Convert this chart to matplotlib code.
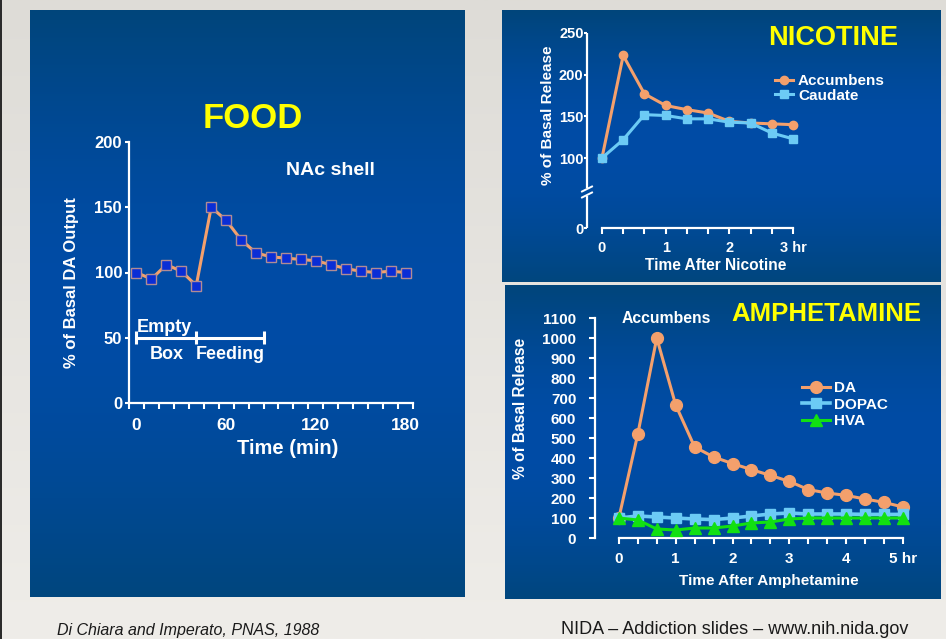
import numpy as np
import matplotlib
matplotlib.use("Agg")
import matplotlib.pyplot as plt
from matplotlib import font_manager
from matplotlib.colors import to_rgb
from matplotlib.ticker import FixedLocator, NullLocator

# ---------------- data ----------------
# FOOD: NAc shell, % of basal DA output, samples every 10 min
food_time_min = [0, 10, 20, 30, 40, 50, 60, 70, 80, 90, 100, 110, 120, 130, 140, 150, 160, 170, 180]
food_da = [100, 95, 106, 101, 90, 150, 140, 125, 115, 112, 111, 110, 109, 106, 103, 101, 100, 101, 100]
food_phase_edges = [0, 40, 85]          # empty box, then feeding
food_phase_level = 50
food_xticks = [0, 60, 120, 180]
food_yticks = [0, 50, 100, 150, 200]

# NICOTINE: % of basal release, samples every 20 min
nic_time_min = [0, 20, 40, 60, 80, 100, 120, 140, 160, 180]
nic_accumbens = [100, 223, 177, 163, 158, 154, 144, 142, 141, 140]
nic_caudate = [100, 122, 152, 151, 147, 147, 143, 142, 130, 123]
nic_xticklabels = ["0", "", "", "1", "", "", "2", "", "", "3 hr"]
nic_yticks = [0, 100, 150, 200, 250]

# AMPHETAMINE: accumbens, % of basal release, samples every 20 min
amp_time_min = [0, 20, 40, 60, 80, 100, 120, 140, 160, 180, 200, 220, 240, 260, 280, 300]
amp_da = [100, 520, 1000, 665, 455, 405, 372, 342, 313, 283, 242, 225, 213, 195, 178, 155]
amp_dopac = [100, 110, 105, 100, 95, 92, 100, 110, 120, 125, 120, 120, 120, 118, 118, 118]
amp_hva = [100, 90, 45, 40, 50, 50, 60, 75, 80, 95, 100, 100, 100, 100, 100, 100]
amp_xticklabels = ["0", "", "", "1", "", "", "2", "", "", "3", "", "", "4", "", "", "5 hr"]
amp_yticks = [0, 100, 200, 300, 400, 500, 600, 700, 800, 900, 1000, 1100]

# ---------------- style ----------------
W, H = 946, 639
plt.rcParams["font.family"] = ["Liberation Sans", "DejaVu Sans"]
plt.rcParams["font.weight"] = "bold"

names = {f.name for f in font_manager.fontManager.ttflist}
narrow = "Liberation Sans Narrow" if "Liberation Sans Narrow" in names else None

ORANGE = "#F4A06C"
LIGHTBLUE = "#6CCBF5"
GREEN = "#12E012"
YELLOW = "#FFFF00"
WHITE = "white"

fig = plt.figure(figsize=(W / 100, H / 100), dpi=100)


def fx(x):
    return x / W


def fy(y):
    return 1 - y / H


def axes_px(left, top, right, bottom):
    return fig.add_axes([left / W, 1 - bottom / H, (right - left) / W, (bottom - top) / H])


# background slide and the three blue panels
bg = fig.add_axes([0, 0, 1, 1], zorder=-10)
bg.set_xlim(0, W)
bg.set_ylim(H, 0)
bg.axis("off")

t = np.linspace(0, 1, 256)[:, None]
c0, c1 = np.array(to_rgb("#DEDCD7")), np.array(to_rgb("#EFEDE9"))
bg.imshow((c0 + (c1 - c0) * t)[:, None, :], extent=(0, W, H, 0), aspect="auto")
bg.add_patch(plt.Rectangle((0, 0), 1.6, H, color="#2B2B2B", lw=0))


def panel(x0, y0, x1, y1):
    top = np.array(to_rgb("#00457B"))
    mid = np.array(to_rgb("#004CA6"))
    bot = np.array(to_rgb("#00467E"))
    s = np.linspace(0, 1, 256)[:, None]
    w = np.sin(np.pi * s)
    edge = np.where(s < 0.5, top, bot)
    arr = edge + (mid - edge) * w
    bg.imshow(arr[:, None, :], extent=(x0, x1, y1, y0), aspect="auto",
              interpolation="bilinear")


panel(30, 10, 464, 597)
panel(502, 10, 940, 282)
panel(505, 285, 940, 599)
bg.set_xlim(0, W)
bg.set_ylim(H, 0)


def base_style(ax):
    ax.patch.set_alpha(0)
    for side in ("top", "right"):
        ax.spines[side].set_visible(False)
    for side in ("left", "bottom"):
        ax.spines[side].set_color(WHITE)
        ax.spines[side].set_linewidth(1.6)
    ax.tick_params(which="both", colors=WHITE, width=1.5, direction="out")


# ---------------- FOOD ----------------
ax1 = axes_px(129, 142, 413, 403)
base_style(ax1)
ax1.set_xlim(-5, 185)
ax1.set_ylim(0, 200)
ax1.set_yticks(food_yticks)
ax1.tick_params(axis="y", length=3, pad=2, labelsize=12)
ax1.set_xticks(food_xticks)
ax1.xaxis.set_minor_locator(FixedLocator(np.arange(-5, 186, 10)))
ax1.tick_params(axis="x", which="major", length=0, pad=11, labelsize=12.5)
ax1.tick_params(axis="x", which="minor", length=4)

ax1.plot(food_time_min, food_da, color=ORANGE, lw=2.2, marker="s", ms=7.2,
         mfc="#0A2ED6", mec="#B08C94", mew=1.0, clip_on=False, zorder=3)

ax1.hlines(food_phase_level, food_phase_edges[0], food_phase_edges[-1], color=WHITE, lw=2.2)
ax1.vlines(food_phase_edges, food_phase_level - 5, food_phase_level + 5, color=WHITE, lw=2.2)
mid_empty = (food_phase_edges[0] + food_phase_edges[1]) / 2
mid_feed = (food_phase_edges[1] + food_phase_edges[2]) / 2
ax1.annotate("Empty", (mid_empty, food_phase_level), xytext=(-2, 6), textcoords="offset pixels",
             ha="center", va="baseline", color=WHITE, fontsize=13)
ax1.annotate("Box", (mid_empty, food_phase_level), xytext=(0, -21), textcoords="offset pixels",
             ha="center", va="baseline", color=WHITE, fontsize=13)
ax1.annotate("Feeding", (mid_feed, food_phase_level), xytext=(0, -21), textcoords="offset pixels",
             ha="center", va="baseline", color=WHITE, fontsize=13)

fig.text(fx(253), fy(118), "FOOD", color=YELLOW, fontsize=25, ha="center", va="center")
fig.text(fx(330), fy(170), "NAc shell", color=WHITE, fontsize=14, ha="center", va="center")
fig.text(fx(71), fy(283), "% of Basal DA Output", color=WHITE, fontsize=12, rotation=90,
         ha="center", va="center")
fig.text(fx(288), fy(448), "Time (min)", color=WHITE, fontsize=14.5, ha="center", va="center")

# ---------------- NICOTINE ----------------
NIC_K = 0.84


def nic_fwd(y):
    y = np.asarray(y, dtype=float)
    return np.where(y >= 100, y, 100 - (100 - y) * NIC_K)


def nic_inv(v):
    v = np.asarray(v, dtype=float)
    return np.where(v >= 100, v, 100 - (100 - v) / NIC_K)


nic_l, nic_t, nic_r, nic_b = 587, 33, 793, 228
ax2 = axes_px(nic_l, nic_t, nic_r, nic_b)
base_style(ax2)
ax2.set_yscale("function", functions=(nic_fwd, nic_inv))
ax2.set_ylim(0, 250)
ax2.set_xlim(-0.235, 3)
ax2.yaxis.set_major_locator(FixedLocator(nic_yticks))
ax2.yaxis.set_minor_locator(NullLocator())
ax2.set_yticklabels([str(v) for v in nic_yticks])
ax2.tick_params(axis="y", length=2.5, pad=0, labelsize=10.5)
nic_hours = [m / 60 for m in nic_time_min]
ax2.set_xticks(nic_hours)
ax2.set_xticklabels(nic_xticklabels)
ax2.tick_params(axis="x", length=4, pad=5, labelsize=10.5)
ax2.spines["bottom"].set_bounds(0, 3)

# broken left axis drawn in axes fraction
ax2.spines["left"].set_visible(False)
nw, nh = nic_r - nic_l, nic_b - nic_t


def afx(px):
    return (px - nic_l) / nw


def afy(py):
    return (nic_b - py) / nh


for ya, yb in ((afy(nic_t), afy(188)), (afy(196), afy(nic_b))):
    ax2.plot([0, 0], [ya, yb], transform=ax2.transAxes, color=WHITE, lw=1.6,
             clip_on=False, solid_capstyle="butt")
for yc in (189, 195):
    ax2.plot([afx(nic_l - 5), afx(nic_l + 5)], [afy(yc + 2.5), afy(yc - 2.5)],
             transform=ax2.transAxes, color=WHITE, lw=1.4, clip_on=False)

ax2.plot(nic_hours, nic_accumbens, color=ORANGE, lw=2.2, marker="o", ms=6,
         mfc=ORANGE, mec=ORANGE, clip_on=False, zorder=3, label="Accumbens")
ax2.plot(nic_hours, nic_caudate, color=LIGHTBLUE, lw=2.2, marker="s", ms=6,
         mfc=LIGHTBLUE, mec=LIGHTBLUE, clip_on=False, zorder=4, label="Caudate")
ax2.legend(loc="upper left", bbox_to_anchor=(fx(775), fy(74)), bbox_transform=fig.transFigure,
           frameon=False, borderpad=0, borderaxespad=0, handlelength=1.2,
           handletextpad=0.3, labelspacing=0.05, numpoints=1,
           prop=dict(weight="bold", size=11), labelcolor=WHITE)

fig.text(fx(833), fy(38), "NICOTINE", color=YELLOW, fontsize=19.5, ha="center", va="center")
fig.text(fx(548), fy(115), "% of Basal Release", color=WHITE, fontsize=11, rotation=90,
         ha="center", va="center")
fig.text(fx(716), fy(265), "Time After Nicotine", color=WHITE, fontsize=11.2,
         ha="center", va="center")

# ---------------- AMPHETAMINE ----------------
ax3 = axes_px(595, 318, 903, 538)
base_style(ax3)
ax3.set_xlim(-0.42, 5)
ax3.set_ylim(0, 1100)
ax3.set_yticks(amp_yticks)
ax3.tick_params(axis="y", length=4, pad=9.5, labelsize=11)
amp_hours = [m / 60 for m in amp_time_min]
ax3.set_xticks(amp_hours)
ax3.set_xticklabels(amp_xticklabels)
ax3.tick_params(axis="x", length=4, pad=6, labelsize=11)
ax3.spines["bottom"].set_bounds(0, 5)

ax3.plot(amp_hours, amp_da, color=ORANGE, lw=2.2, marker="o", ms=8.5,
         mfc=ORANGE, mec=ORANGE, clip_on=False, zorder=3, label="DA")
ax3.plot(amp_hours, amp_dopac, color=LIGHTBLUE, lw=2.6, marker="s", ms=7.5,
         mfc=LIGHTBLUE, mec=LIGHTBLUE, clip_on=False, zorder=4, label="DOPAC")
ax3.plot(amp_hours, amp_hva, color=GREEN, lw=2.2, marker="^", ms=8.5,
         mfc=GREEN, mec=GREEN, clip_on=False, zorder=5, label="HVA")
ax3.legend(loc="upper left", bbox_to_anchor=(fx(802), fy(381)), bbox_transform=fig.transFigure,
           frameon=False, borderpad=0, borderaxespad=0, handlelength=1.85,
           handletextpad=0.26, labelspacing=0.17, numpoints=1,
           prop=dict(weight="bold", size=11), labelcolor=WHITE)

fig.text(fx(826), fy(314), "AMPHETAMINE", color=YELLOW, fontsize=18.5, ha="center", va="center")
fig.text(fx(666), fy(318), "Accumbens", color=WHITE, fontsize=11.3, ha="center", va="center")
fig.text(fx(520), fy(408), "% of Basal Release", color=WHITE, fontsize=11.2, rotation=90,
         ha="center", va="center")
fig.text(fx(769), fy(581), "Time After Amphetamine", color=WHITE, fontsize=11,
         ha="center", va="center")

# ---------------- footer ----------------
foot_family = [narrow, "Liberation Sans"] if narrow else ["Liberation Sans"]
fig.text(fx(57), fy(631), "Di Chiara and Imperato, PNAS, 1988", family=foot_family,
         style="italic", weight="normal", fontsize=13.5 if narrow else 11.5,
         color="#1A1A1A", ha="left", va="center")
fig.text(fx(561), fy(630), "NIDA \u2013 Addiction slides \u2013 www.nih.nida.gov",
         family=foot_family, weight="normal", fontsize=15.5 if narrow else 13,
         color="#1A1A1A", ha="left", va="center")

fig.savefig("out.png", dpi=100)
